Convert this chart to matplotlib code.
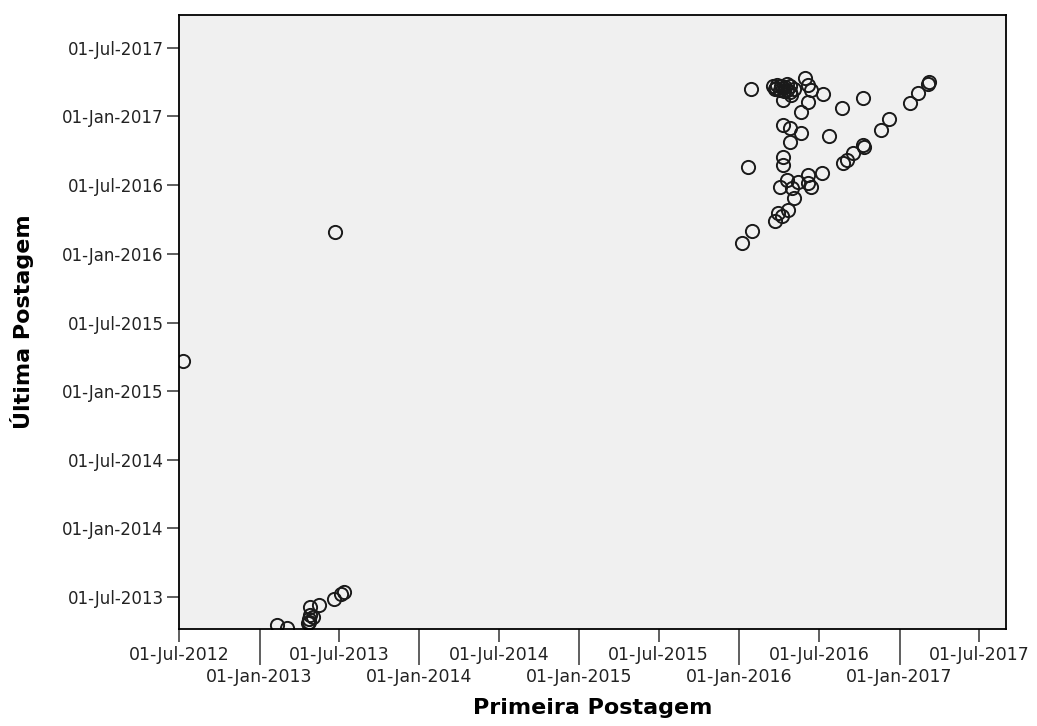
import pandas as pd
import matplotlib
matplotlib.use("Agg")
import matplotlib.pyplot as plt
import matplotlib.dates as mdates

# first post / last post per user
primeira = [
    "2012-07-10", "2013-06-23",
    "2013-02-09", "2013-03-04", "2013-04-21", "2013-04-23", "2013-04-27",
    "2013-05-04", "2013-04-27", "2013-05-16", "2013-06-19", "2013-07-05",
    "2013-07-12", "2013-04-23",
    "2016-01-08", "2016-01-31", "2016-01-22", "2016-01-28", "2016-03-23",
    "2016-03-30", "2016-04-08", "2016-04-22", "2016-04-04", "2016-04-20",
    "2016-05-01", "2016-05-04", "2016-05-15", "2016-06-05", "2016-06-07",
    "2016-06-12", "2016-07-09", "2016-04-09", "2016-04-09", "2016-04-09",
    "2016-04-27", "2016-05-20", "2016-04-27", "2016-07-25", "2016-05-22",
    "2016-06-07", "2016-07-11", "2016-05-31", "2016-06-07", "2016-06-12",
    "2016-03-19", "2016-03-28", "2016-04-06", "2016-04-15", "2016-04-25",
    "2016-04-02", "2016-04-13", "2016-04-25", "2016-05-06", "2016-04-11",
    "2016-03-26", "2016-04-29", "2016-04-18", "2016-03-22", "2016-04-09",
    "2016-04-20",
    "2016-08-22", "2016-10-09", "2016-08-26", "2016-09-04", "2016-09-16",
    "2016-10-09", "2016-10-11", "2016-11-19", "2016-12-07", "2017-01-24",
    "2017-02-12", "2017-03-07", "2017-03-09",
]
ultima = [
    "2015-03-22", "2016-02-28",
    "2013-04-17", "2013-04-09", "2013-04-22", "2013-05-03", "2013-05-14",
    "2013-05-09", "2013-06-04", "2013-06-10", "2013-06-26", "2013-07-09",
    "2013-07-14", "2013-04-25",
    "2016-01-28", "2016-03-02", "2016-08-18", "2017-03-14", "2016-03-29",
    "2016-04-19", "2016-04-10", "2016-04-25", "2016-06-26", "2016-07-14",
    "2016-06-23", "2016-05-27", "2016-07-09", "2016-07-06", "2016-07-28",
    "2016-06-26", "2016-08-02", "2016-08-23", "2016-09-14", "2016-12-08",
    "2016-11-30", "2016-11-17", "2016-10-23", "2016-11-08", "2017-01-12",
    "2017-02-07", "2017-03-01", "2017-04-12", "2017-03-25", "2017-03-11",
    "2017-03-22", "2017-03-25", "2017-03-22", "2017-03-19", "2017-03-22",
    "2017-03-11", "2017-03-09", "2017-03-06", "2017-03-14", "2017-02-13",
    "2017-03-17", "2017-02-26", "2017-03-27", "2017-03-15", "2017-03-16",
    "2017-03-12",
    "2017-01-22", "2017-02-18", "2016-08-29", "2016-09-06", "2016-09-24",
    "2016-10-16", "2016-10-12", "2016-11-25", "2016-12-24", "2017-02-05",
    "2017-03-03", "2017-03-27", "2017-04-02",
]

x = pd.to_datetime(primeira)
y = pd.to_datetime(ultima)

fig = plt.figure(figsize=(10.37, 7.26), dpi=100)
ax = fig.add_axes([179/1037, 1-629/726, 827/1037, 614/726])
ax.set_facecolor('#f0f0f0')

ax.plot(x, y, 'o', mfc='none', mec='#1a1a1a', ms=9.5, mew=1.4)

ax.set_xlim(pd.Timestamp("2012-07-01"), pd.Timestamp("2017-09-01"))
ax.set_ylim(pd.Timestamp("2013-04-07"), pd.Timestamp("2017-09-27"))

fmt = mdates.DateFormatter('%d-%b-%Y')
ax.xaxis.set_major_locator(mdates.MonthLocator(bymonth=7))
ax.xaxis.set_minor_locator(mdates.MonthLocator(bymonth=1))
ax.xaxis.set_major_formatter(fmt)
ax.xaxis.set_minor_formatter(fmt)
ax.yaxis.set_major_locator(mdates.MonthLocator(bymonth=[1, 7]))
ax.yaxis.set_major_formatter(fmt)

ax.tick_params(axis='x', which='major', length=9, width=1.2, color='#444444',
               pad=3, labelsize=12.5, labelcolor='#222222')
ax.tick_params(axis='x', which='minor', length=26, width=1.2, color='#444444',
               pad=2, labelsize=12.5, labelcolor='#222222')
ax.tick_params(axis='y', which='major', length=9, width=1.2, color='#444444',
               pad=2, labelsize=12, labelcolor='#222222')

for s in ax.spines.values():
    s.set_linewidth(1.3)
    s.set_color('black')

ax.set_xlabel('Primeira Postagem', fontsize=16, fontweight='bold')
ax.set_ylabel('Última Postagem', fontsize=16, fontweight='bold')
ax.xaxis.set_label_coords(0.5, -0.112)
ax.yaxis.set_label_coords(-0.175, 0.5)

fig.savefig('out.png', dpi=100)
